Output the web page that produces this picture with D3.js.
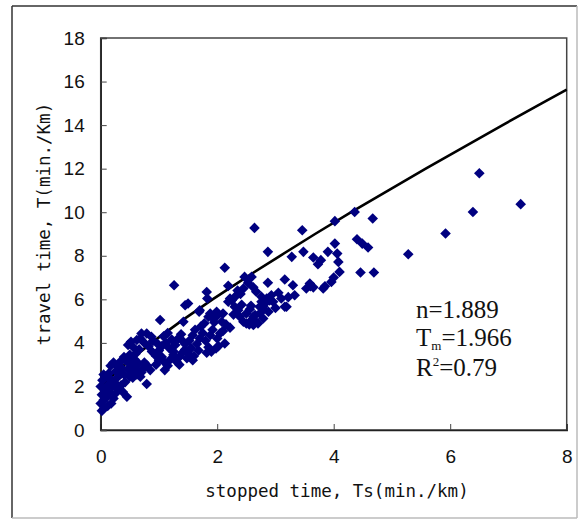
<!DOCTYPE html>
<html><head><meta charset="utf-8">
<script src="https://cdn.jsdelivr.net/npm/d3@7"></script>
<style>body{margin:0;background:#fff}svg{display:block}</style>
</head><body>
<svg id="chart" width="584" height="521"></svg>
<script>
// observed points: stopped time Ts (min/km)
const stoppedTime = [
0.02,0.06,0.12,0.00,0.05,0.18,0.10,0.02,0.22,0.15,0.08,0.26,0.30,0.00,0.12,0.20,0.03,0.08,0.18,0.25,0.35,0.42,0.28,0.45,0.79,0.38,0.14,0.05,
0.17,0.22,0.28,0.33,0.36,0.42,0.47,0.52,0.47,0.55,0.40,0.60,0.62,0.55,0.68,0.72,0.50,0.65,0.26,0.35,0.58,0.75,0.80,0.70,0.85,
0.47,0.52,0.56,0.62,0.70,0.79,0.87,0.68,0.75,0.82,0.66,0.60,0.88,0.40,0.50,0.95,0.90,
0.95,1.00,1.05,1.10,1.15,1.20,1.25,1.30,1.35,1.40,1.00,1.05,1.12,1.18,1.22,1.28,1.33,1.38,1.42,1.45,1.08,1.15,0.98,1.25,1.35,1.10,1.48,1.02,1.26,1.45,1.42,1.50,
1.50,1.55,1.60,1.65,1.70,1.58,1.52,1.62,1.72,1.68,1.75,1.78,1.80,1.85,1.88,1.92,1.95,1.58,1.45,1.82,1.90,2.00,2.05,2.13,2.10,2.02,1.98,2.22,2.15,1.70,1.88,1.99,2.10,1.93,2.08,1.69,1.85,2.00,
1.82,1.83,2.19,2.13,2.22,2.19,2.25,2.30,2.36,2.39,2.45,2.50,2.59,2.65,2.73,2.76,2.82,2.85,2.88,2.79,2.70,2.62,2.55,2.47,2.59,2.53,2.62,2.67,2.45,2.40,2.30,2.35,2.87,2.64,2.56,2.50,2.65,2.42,2.28,2.58,
2.87,3.28,3.46,3.16,3.30,3.33,2.93,2.96,3.10,3.16,2.76,2.79,2.73,3.19,2.79,2.62,3.05,3.22,2.90,3.00,
3.48,3.90,4.02,4.06,3.65,3.73,4.08,4.10,3.96,3.82,3.59,3.53,3.65,4.02,4.36,4.67,4.40,4.49,4.59,4.46,4.69,3.78,3.60,3.85,4.00,
5.28,5.92,6.39,6.50,7.21
];
// observed points: travel time T (min/km)
const travelTime = [
0.88,1.00,1.10,1.22,1.38,1.22,1.50,1.62,1.45,1.70,1.85,1.70,1.88,2.00,2.05,2.00,2.28,2.44,2.30,2.15,2.05,2.20,2.40,1.53,2.11,1.75,2.60,2.55,
2.95,3.10,2.95,3.12,2.85,3.20,3.12,3.00,2.80,2.70,2.55,2.80,2.55,2.40,2.45,2.80,2.45,3.05,2.70,2.60,3.25,3.10,2.95,2.65,2.75,
3.90,4.05,3.80,4.13,4.43,4.43,4.28,4.20,4.00,3.85,3.70,3.50,3.60,3.35,3.45,3.40,4.10,
3.00,3.20,3.35,3.10,2.95,3.25,3.45,3.15,3.35,3.55,3.65,3.85,4.00,3.75,4.15,3.90,4.20,4.40,4.05,3.70,4.30,4.45,3.95,3.60,3.00,2.75,3.30,5.05,6.65,5.73,4.97,5.81,
3.50,3.75,3.40,3.95,4.20,4.35,4.10,4.60,4.75,3.65,4.45,4.90,4.10,3.80,4.35,4.60,4.95,3.20,3.95,3.55,3.60,4.20,4.44,3.97,4.55,3.85,3.75,4.70,4.85,5.50,5.35,5.43,5.35,5.12,4.97,5.43,5.20,5.25,
6.34,6.04,6.62,7.45,6.04,5.89,5.96,5.66,5.50,5.20,4.97,4.89,5.05,5.28,5.66,5.89,5.81,6.04,5.43,5.12,4.89,4.82,4.85,7.03,7.03,6.75,6.55,6.35,6.50,6.25,6.10,6.40,6.76,9.28,5.55,5.35,5.02,5.75,5.30,5.70,
8.18,7.95,9.17,6.91,6.65,6.19,6.19,5.89,6.04,5.66,6.12,5.66,5.35,5.66,5.52,5.20,6.30,6.10,5.95,5.60,
8.18,8.18,8.56,8.10,7.92,7.61,7.72,7.26,6.80,6.50,6.73,6.50,6.55,9.59,10.01,9.71,8.76,8.56,8.38,7.23,7.23,7.80,6.60,6.60,7.00,
8.07,9.02,10.01,11.79,10.37
];
// fitted two-fluid curve
const curveTs = [0, 0.2, 0.41, 0.87, 1.38, 1.92, 2.49, 3.08, 3.68, 4.30, 4.94, 5.58, 6.24, 6.90, 7.57, 8.0];
const curveT  = [1.97, 2.5, 3.0, 4.0, 5.0, 6.0, 7.0, 8.0, 9.0, 10.0, 11.0, 12.0, 13.0, 14.0, 15.0, 15.63];
const xTicks = [0, 2, 4, 6, 8];
const yTicks = [0, 2, 4, 6, 8, 10, 12, 14, 16, 18];

const svg = d3.select("#chart");
const x = d3.scaleLinear().domain([0, 8]).range([100.7, 566.7]);
const y = d3.scaleLinear().domain([0, 18]).range([430, 38]);

// outer frame
svg.append("line").attr("x1",12).attr("y1",6).attr("x2",577).attr("y2",6).attr("stroke","#333").attr("stroke-width",1.5);
svg.append("line").attr("x1",12).attr("y1",6).attr("x2",12).attr("y2",518).attr("stroke","#333").attr("stroke-width",1.5);
svg.append("line").attr("x1",12).attr("y1",518).attr("x2",577).attr("y2",518).attr("stroke","#bbb").attr("stroke-width",1.5);
svg.append("line").attr("x1",577).attr("y1",6).attr("x2",577).attr("y2",518).attr("stroke","#bbb").attr("stroke-width",1.5);

// plot box
svg.append("rect").attr("x",100.7).attr("y",38).attr("width",466).attr("height",392)
  .attr("fill","none").attr("stroke","#444").attr("stroke-width",1.5);

// axes with inward ticks
const xAxis = svg.append("g").attr("transform","translate(0,430)")
  .call(d3.axisBottom(x).tickValues(xTicks).tickSize(-6).tickPadding(16).tickFormat(d3.format("d")));
const yAxis = svg.append("g").attr("transform","translate(100.7,0)")
  .call(d3.axisLeft(y).tickValues(yTicks).tickSize(-6).tickPadding(16).tickFormat(d3.format("d")));
[xAxis, yAxis].forEach(g => {
  g.select(".domain").attr("stroke","#222").attr("stroke-width",1.5);
  g.selectAll(".tick line").attr("stroke","#444").attr("stroke-width",1);
  g.selectAll("text").attr("font-family","'Liberation Sans', Arial, sans-serif").attr("font-size",19).attr("fill","#111");
});
xAxis.selectAll("text").attr("dy","0.9em");

// fitted line
const lineData = curveTs.map((d,i) => [d, curveT[i]]);
svg.append("path").datum(lineData)
  .attr("d", d3.line().x(d => x(d[0])).y(d => y(d[1])))
  .attr("fill","none").attr("stroke","#000").attr("stroke-width",2.6);

// scatter markers (diamonds)
const pts = stoppedTime.map((d,i) => [d, travelTime[i]]);
const r = 5.3;
svg.append("g").selectAll("path").data(pts).join("path")
  .attr("d", d => { const cx = x(d[0]), cy = y(d[1]);
    return `M${cx},${cy-r}L${cx+r},${cy}L${cx},${cy+r}L${cx-r},${cy}Z`; })
  .attr("fill","#000080");

// axis titles
svg.append("text").attr("x",337).attr("y",497).attr("text-anchor","middle")
  .attr("font-family","'DejaVu Sans Mono', monospace").attr("font-size",17.5).attr("fill","#111")
  .text("stopped time, Ts(min./km)");
svg.append("text").attr("transform","translate(50,224) rotate(-90)").attr("text-anchor","middle")
  .attr("font-family","'DejaVu Sans Mono', monospace").attr("font-size",17.5).attr("fill","#111")
  .text("travel time, T(min./Km)");

// annotation
const ann = svg.append("g").attr("font-family","'Liberation Serif', 'Times New Roman', serif").attr("fill","#111");
ann.append("text").attr("x",416).attr("y",318).attr("font-size",25).text("n=1.889");
const t2 = ann.append("text").attr("x",416).attr("y",346).attr("font-size",25);
t2.append("tspan").text("T");
t2.append("tspan").attr("font-size",13).attr("dy",4).text("m");
t2.append("tspan").attr("dy",-4).text("=1.966");
const t3 = ann.append("text").attr("x",416).attr("y",376).attr("font-size",25);
t3.append("tspan").text("R");
t3.append("tspan").attr("font-size",13).attr("dy",-10).text("2");
t3.append("tspan").attr("dy",10).text("=0.79");
</script>
</body></html>
